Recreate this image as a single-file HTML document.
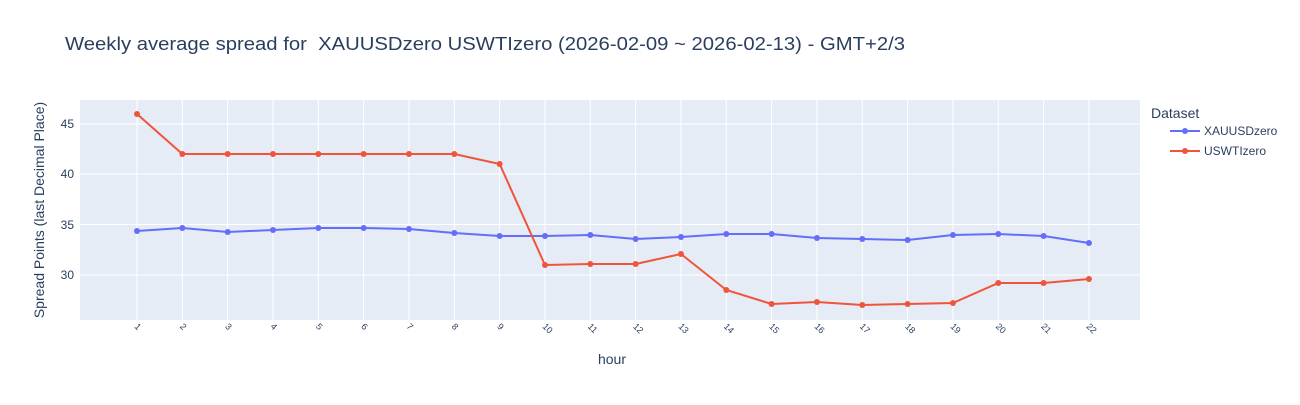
<!DOCTYPE html>
<html><head><meta charset="utf-8"><style>
body{margin:0;background:#fff;}
svg text{font-family:"Liberation Sans",sans-serif;}
</style></head><body>
<svg width="1300" height="400" xmlns="http://www.w3.org/2000/svg">
<rect width="1300" height="400" fill="#fff"/>
<text x="65" y="50" font-size="18" fill="#2a3f5f" xml:space="preserve" textLength="840" lengthAdjust="spacingAndGlyphs">Weekly average spread for  XAUUSDzero USWTIzero (2026-02-09 ~ 2026-02-13) - GMT+2/3</text>
<rect x="80" y="100" width="1060" height="220" fill="#e5ecf6"/>
<g stroke="#fff" stroke-width="1">
<line x1="80" x2="1140" y1="124" y2="124"/><line x1="80" x2="1140" y1="174" y2="174"/>
<line x1="80" x2="1140" y1="224.5" y2="224.5"/><line x1="80" x2="1140" y1="275" y2="275"/>
</g>
<g id="vg" stroke="#fff" stroke-width="1"></g>
<g font-size="12" fill="#2a3f5f" text-anchor="end">
<text x="74" y="128">45</text><text x="74" y="178">40</text><text x="74" y="229">35</text><text x="74" y="279">30</text>
</g>
<g id="xl" font-size="9" fill="#2a3f5f"></g>
<text x="612" y="364" font-size="14" fill="#2a3f5f" text-anchor="middle">hour</text>
<text transform="translate(44,210) rotate(-90)" font-size="14" fill="#2a3f5f" text-anchor="middle">Spread Points (last Decimal Place)</text>
<g id="s"></g>
<text x="1151" y="118" font-size="14" fill="#2a3f5f">Dataset</text>
<line x1="1170" x2="1200" y1="131" y2="131" stroke="#636efa" stroke-width="2"/><circle cx="1185" cy="131" r="3" fill="#636efa"/>
<text x="1204" y="135" font-size="12" fill="#2a3f5f">XAUUSDzero</text>
<line x1="1170" x2="1200" y1="151" y2="151" stroke="#ef553b" stroke-width="2"/><circle cx="1185" cy="151" r="3" fill="#ef553b"/>
<text x="1204" y="155" font-size="12" fill="#2a3f5f">USWTIzero</text>
</svg>
<script>
var ns="http://www.w3.org/2000/svg";
function X(i){return 137+(i)*45.33;}
var vg=document.getElementById('vg'),xl=document.getElementById('xl'),s=document.getElementById('s');
for(var i=0;i<22;i++){var l=document.createElementNS(ns,'line');l.setAttribute('x1',X(i));l.setAttribute('x2',X(i));l.setAttribute('y1',100);l.setAttribute('y2',320);vg.appendChild(l);
var t=document.createElementNS(ns,'text');t.setAttribute('transform','translate('+(X(i)-3)+',327) rotate(45)');t.textContent=i+1;xl.appendChild(t);}
var a=[231,228,232,230,228,228,229,233,236,236,235,239,237,234,234,238,239,240,235,234,236,243];
var b=[114,154,154,154,154,154,154,154,164,265,264,264,254,290,304,302,305,304,303,283,283,279];
[[a,'#636efa'],[b,'#ef553b']].forEach(function(d){var p=d[0].map(function(y,i){return X(i)+','+y}).join(' ');
var pl=document.createElementNS(ns,'polyline');pl.setAttribute('points',p);pl.setAttribute('fill','none');pl.setAttribute('stroke',d[1]);pl.setAttribute('stroke-width',2);s.appendChild(pl);
d[0].forEach(function(y,i){var c=document.createElementNS(ns,'circle');c.setAttribute('cx',X(i));c.setAttribute('cy',y);c.setAttribute('r',3);c.setAttribute('fill',d[1]);s.appendChild(c);});});
</script>
</body></html>
